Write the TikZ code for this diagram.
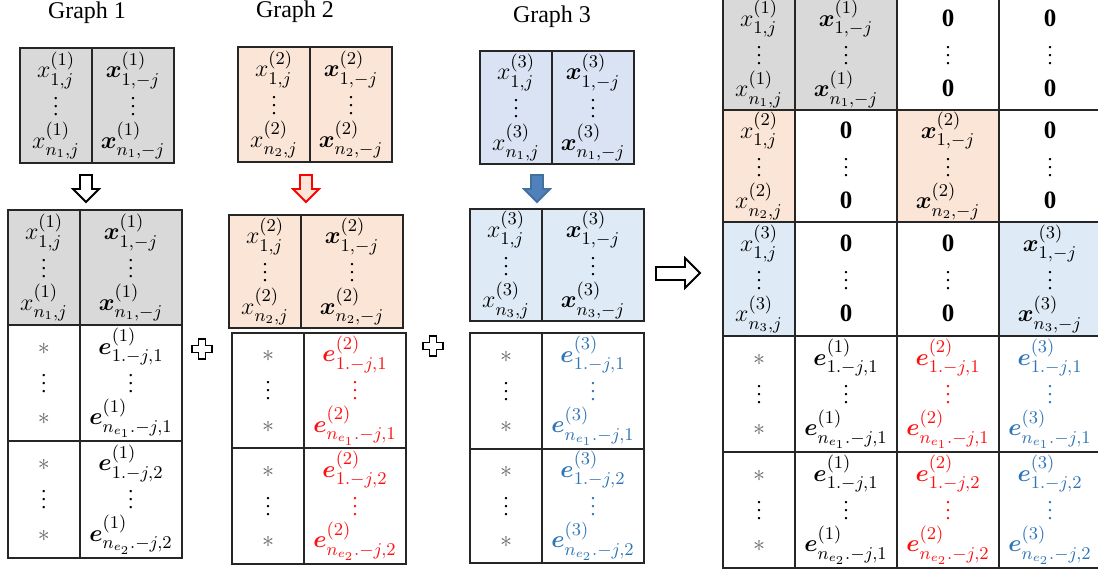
\documentclass[tikz,border=0pt]{standalone}
\usepackage{amsmath}
\usepackage{fontspec}
\setmainfont{Liberation Serif}
\usepackage{tikz}

\definecolor{grayfill}{HTML}{D9D9D9}
\definecolor{pinkfill}{HTML}{FBE5D6}
\definecolor{bluefill}{HTML}{DEEBF7}
\definecolor{bluetop}{HTML}{DAE3F3}
\definecolor{ered}{HTML}{FF1010}
\definecolor{eblue}{HTML}{2E75B6}
\definecolor{arrowblue}{HTML}{4F81BD}
\definecolor{arrowline}{HTML}{41719C}

% entries
\newcommand{\xa}[2]{x^{(#1)}_{#2,j}}
\newcommand{\xb}[2]{\boldsymbol{x}^{(#1)}_{#2,-j}}
\newcommand{\eb}[3]{\boldsymbol{e}^{(#1)}_{#2.-j,#3}}
\newcommand{\shortdots}{\text{\fontsize{10}{10}\selectfont$\vdots$}}
\newcommand{\colstk}[2]{$\begin{array}{@{}c@{}}#1\\[-1.5pt]\shortdots\\[-1pt]#2\end{array}$}
\newcommand{\starstk}{\colstk{\vphantom{\eb{1}{1}{1}}{\color{black!60}\ast}}{\vphantom{\eb{1}{n_{e_1}}{1}}{\color{black!60}\ast}}}
\newcommand{\zerostk}{\colstk{\vphantom{\xb{1}{1}}\mathbf{0}}{\vphantom{\xb{1}{n_1}}\mathbf{0}}}

\begin{document}
\begin{tikzpicture}[x=0.5pt,y=-0.5pt,
  cell/.style={draw=black!85, line width=0.6pt, anchor=north west, inner sep=0pt, outer sep=0pt,
    minimum width=36pt, minimum height=57.5pt, font=\fontsize{12.5}{13.5}\selectfont},
  mid/.style={minimum width=41pt},
  wide/.style={minimum width=51pt},
  title/.style={font=\fontsize{12}{14}\selectfont},
  blockarrow/.style={line width=0.9pt, line join=miter},
  plus/.style={line width=0.9pt, draw=black, fill=white}]
\clip (0,0) rectangle (1098,574);

% titles
\node[title] (t1) at (87,13) {Graph 1};
\node[title] (t2) at (295,12) {Graph 2};
\node[title] (t3) at (552,17) {Graph 3};

% graph inputs
\node[cell, fill=grayfill] (g1x) at (20,48) {\colstk{\xa{1}{1}}{\xa{1}{n_1}}};
\node[cell, mid, fill=grayfill] (g1xr) at (g1x.north east) {\colstk{\xb{1}{1}}{\xb{1}{n_1}}};
\node[cell, fill=pinkfill] (g2x) at (238,47) {\colstk{\xa{2}{1}}{\xa{2}{n_2}}};
\node[cell, mid, fill=pinkfill] (g2xr) at (g2x.north east) {\colstk{\xb{2}{1}}{\xb{2}{n_2}}};
\node[cell, minimum height=56.5pt, fill=bluetop] (g3x) at (480,51) {\colstk{\xa{3}{1}}{\xa{3}{n_1}}};
\node[cell, mid, minimum height=56.5pt, fill=bluetop] (g3xr) at (g3x.north east) {\colstk{\xb{3}{1}}{\xb{3}{n_1}}};

% down arrows
\draw[blockarrow, draw=black, fill=white] (80,175) -- (92,175) -- (92,189) -- (99,189) -- (86,202) -- (73,189) -- (80,189) -- cycle;
\draw[blockarrow, draw=red, fill=pinkfill] (300,175) -- (312,175) -- (312,189) -- (319,189) -- (306,202) -- (293,189) -- (300,189) -- cycle;
\draw[blockarrow, draw=arrowline, fill=arrowblue] (531,175) -- (543,175) -- (543,189) -- (550,189) -- (537,202) -- (524,189) -- (531,189) -- cycle;

% graph 1 expanded
\node[cell, fill=grayfill] (b1x) at (8,210) {\colstk{\xa{1}{1}}{\xa{1}{n_1}}};
\node[cell, wide, fill=grayfill] (b1xr) at (b1x.north east) {\colstk{\xb{1}{1}}{\xb{1}{n_1}}};
\node[cell, minimum height=58pt] (b1s1) at (b1x.south west) {\starstk};
\node[cell, wide, minimum height=58pt] (b1e1) at (b1s1.north east) {\colstk{\eb{1}{1}{1}}{\eb{1}{n_{e_1}}{1}}};
\node[cell, minimum height=58.5pt] (b1s2) at (b1s1.south west) {\starstk};
\node[cell, wide, minimum height=58.5pt] (b1e2) at (b1s2.north east) {\colstk{\eb{1}{1}{2}}{\eb{1}{n_{e_2}}{2}}};

% graph 2 expanded
\node[cell, minimum height=56.5pt, fill=pinkfill] (b2x) at (229,215) {\colstk{\xa{2}{1}}{\xa{2}{n_2}}};
\node[cell, wide, minimum height=56.5pt, fill=pinkfill] (b2xr) at (b2x.north east) {\colstk{\xb{2}{1}}{\xb{2}{n_2}}};
\node[cell, minimum height=57.5pt] (b2s1) at (232,333) {\starstk};
\node[cell, wide, minimum height=57.5pt, text=ered] (b2e1) at (b2s1.north east) {\colstk{\eb{2}{1}{1}}{\eb{2}{n_{e_1}}{1}}};
\node[cell, minimum height=58pt] (b2s2) at (b2s1.south west) {\starstk};
\node[cell, wide, minimum height=58pt, text=ered] (b2e2) at (b2s2.north east) {\colstk{\eb{2}{1}{2}}{\eb{2}{n_{e_2}}{2}}};

% graph 3 expanded
\node[cell, minimum height=56pt, fill=bluefill] (b3x) at (470,209) {\colstk{\xa{3}{1}}{\xa{3}{n_3}}};
\node[cell, wide, minimum height=56pt, fill=bluefill] (b3xr) at (b3x.north east) {\colstk{\xb{3}{1}}{\xb{3}{n_3}}};
\node[cell, minimum height=58pt] (b3s1) at (470,333) {\starstk};
\node[cell, wide, minimum height=58pt, text=eblue] (b3e1) at (b3s1.north east) {\colstk{\eb{3}{1}{1}}{\eb{3}{n_{e_1}}{1}}};
\node[cell, minimum height=57pt] (b3s2) at (b3s1.south west) {\starstk};
\node[cell, wide, minimum height=57pt, text=eblue] (b3e2) at (b3s2.north east) {\colstk{\eb{3}{1}{2}}{\eb{3}{n_{e_2}}{2}}};

% plus signs
\draw[plus, shift={(202,349)}] (-3.5,-10) -- (3.5,-10) -- (3.5,-3.5) -- (10,-3.5) -- (10,3.5) -- (3.5,3.5) -- (3.5,10) -- (-3.5,10) -- (-3.5,3.5) -- (-10,3.5) -- (-10,-3.5) -- (-3.5,-3.5) -- cycle;
\draw[plus, shift={(433,346)}] (-3.5,-10) -- (3.5,-10) -- (3.5,-3.5) -- (10,-3.5) -- (10,3.5) -- (3.5,3.5) -- (3.5,10) -- (-3.5,10) -- (-3.5,3.5) -- (-10,3.5) -- (-10,-3.5) -- (-3.5,-3.5) -- cycle;

% right arrow
\draw[blockarrow, draw=black, fill=white] (656,267) -- (685,267) -- (685,258) -- (700,273) -- (685,288) -- (685,280) -- (656,280) -- cycle;

% combined matrix
\node[cell, minimum height=56pt, fill=grayfill] (m11) at (723,-2) {\colstk{\xa{1}{1}}{\xa{1}{n_1}}};
\node[cell, wide, minimum height=56pt, fill=grayfill] (m12) at (m11.north east) {\colstk{\xb{1}{1}}{\xb{1}{n_1}}};
\node[cell, wide, minimum height=56pt] (m13) at (m12.north east) {\zerostk};
\node[cell, wide, minimum height=56pt] (m14) at (m13.north east) {\zerostk};

\node[cell, minimum height=56pt, fill=pinkfill] (m21) at (m11.south west) {\colstk{\xa{2}{1}}{\xa{2}{n_2}}};
\node[cell, wide, minimum height=56pt] (m22) at (m21.north east) {\zerostk};
\node[cell, wide, minimum height=56pt, fill=pinkfill] (m23) at (m22.north east) {\colstk{\xb{2}{1}}{\xb{2}{n_2}}};
\node[cell, wide, minimum height=56pt] (m24) at (m23.north east) {\zerostk};

\node[cell, minimum height=57pt, fill=bluefill] (m31) at (m21.south west) {\colstk{\xa{3}{1}}{\xa{3}{n_3}}};
\node[cell, wide, minimum height=57pt] (m32) at (m31.north east) {\zerostk};
\node[cell, wide, minimum height=57pt] (m33) at (m32.north east) {\zerostk};
\node[cell, wide, minimum height=57pt, fill=bluefill] (m34) at (m33.north east) {\colstk{\xb{3}{1}}{\xb{3}{n_3}}};

\node[cell, minimum height=58pt] (m41) at (m31.south west) {\starstk};
\node[cell, wide, minimum height=58pt] (m42) at (m41.north east) {\colstk{\eb{1}{1}{1}}{\eb{1}{n_{e_1}}{1}}};
\node[cell, wide, minimum height=58pt, text=ered] (m43) at (m42.north east) {\colstk{\eb{2}{1}{1}}{\eb{2}{n_{e_1}}{1}}};
\node[cell, wide, minimum height=58pt, text=eblue] (m44) at (m43.north east) {\colstk{\eb{3}{1}{1}}{\eb{3}{n_{e_1}}{1}}};

\node[cell, minimum height=58pt] (m51) at (m41.south west) {\starstk};
\node[cell, wide, minimum height=58pt] (m52) at (m51.north east) {\colstk{\eb{1}{1}{1}}{\eb{1}{n_{e_2}}{1}}};
\node[cell, wide, minimum height=58pt, text=ered] (m53) at (m52.north east) {\colstk{\eb{2}{1}{2}}{\eb{2}{n_{e_2}}{2}}};
\node[cell, wide, minimum height=58pt, text=eblue] (m54) at (m53.north east) {\colstk{\eb{3}{1}{2}}{\eb{3}{n_{e_2}}{2}}};
\end{tikzpicture}
\end{document}
